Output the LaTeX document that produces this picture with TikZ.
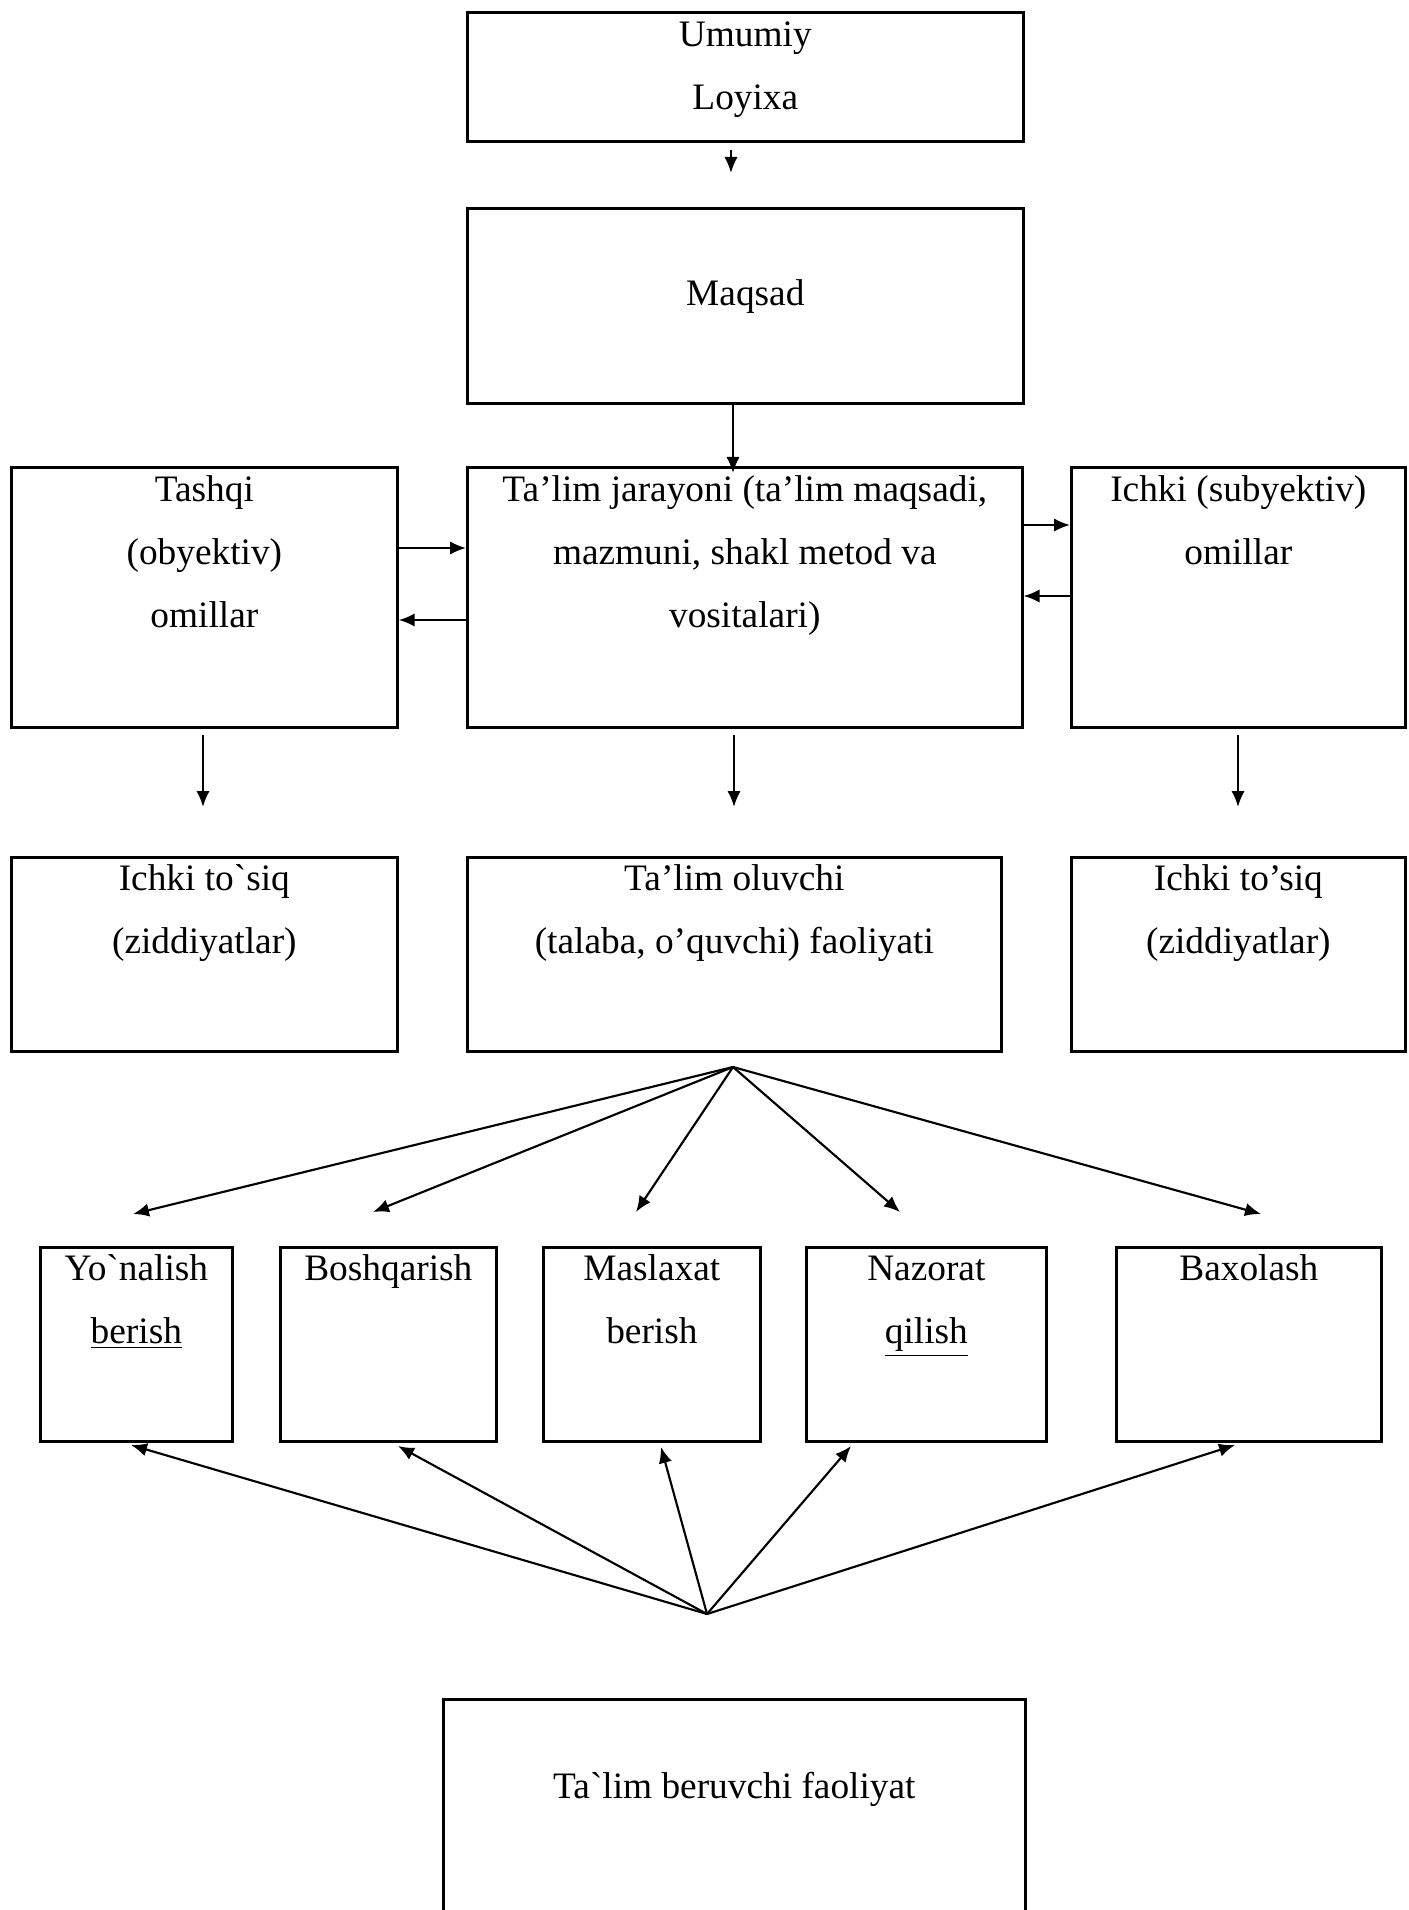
\documentclass[tikz,border=0pt]{standalone}
\usepackage{fontspec}
\setmainfont{Liberation Serif}
\usetikzlibrary{arrows.meta}

\tikzset{
  blok/.style={draw, line width=1pt, anchor=north west, inner sep=0pt},
  yozuv/.style={anchor=north, align=center, inner sep=0pt, font=\fontsize{14}{23.6}\selectfont},
  strelka/.style={line width=0.8pt, -{Latex[length=6pt,width=5pt]}}
}

\begin{document}
\begin{tikzpicture}[x=0.375pt, y=-0.375pt]
\useasboundingbox (0,0) rectangle (1408,1910);

% yuqori qism
\node[blok, minimum width=208.5pt, minimum height=48.4pt] (umumiy) at (466,11) {};
\node[blok, minimum width=208.5pt, minimum height=73.1pt] (maqsad) at (466,207) {};
\node[yozuv] (umumiyT) at ([yshift=3.5pt]umumiy.north) {\strut Umumiy\\Loyixa};
\node[yozuv] (maqsadT) at ([yshift=-20.1pt]maqsad.north) {\strut Maqsad};

% ikkinchi qator
\node[blok, minimum width=144.75pt, minimum height=97.5pt] (tashqi) at (10,466) {};
\node[blok, minimum width=208.1pt, minimum height=97.5pt] (jarayon) at (466,466) {};
\node[blok, minimum width=125.25pt, minimum height=97.5pt] (ichki) at (1070,466) {};
\node[yozuv] (tashqiT) at ([yshift=3.5pt]tashqi.north) {\strut Tashqi\\(obyektiv)\\omillar};
\node[yozuv] (jarayonT) at ([yshift=3.5pt]jarayon.north) {\strut Ta’lim jarayoni (ta’lim maqsadi,\\mazmuni, shakl metod va\\vositalari)};
\node[yozuv] (ichkiT) at ([yshift=3.5pt]ichki.north) {\strut Ichki (subyektiv)\\omillar};

% uchinchi qator
\node[blok, minimum width=144.75pt, minimum height=72.75pt] (tosiqL) at (10,856) {};
\node[blok, minimum width=200.25pt, minimum height=72.75pt] (oluvchi) at (466,856) {};
\node[blok, minimum width=125.25pt, minimum height=72.75pt] (tosiqR) at (1070,856) {};
\node[yozuv] (tosiqLT) at ([yshift=3.8pt]tosiqL.north) {\strut Ichki to\textasciigrave siq\\(ziddiyatlar)};
\node[yozuv] (oluvchiT) at ([yshift=3.8pt]oluvchi.north) {\strut Ta’lim oluvchi\\(talaba, o’quvchi) faoliyati};
\node[yozuv] (tosiqRT) at ([yshift=3.8pt]tosiqR.north) {\strut Ichki to’siq\\(ziddiyatlar)};

% to'rtinchi qator
\node[blok, minimum width=72pt, minimum height=72.75pt] (yonalish) at (39,1246) {};
\node[blok, minimum width=81pt, minimum height=72.75pt] (boshqarish) at (279,1246) {};
\node[blok, minimum width=81.4pt, minimum height=72.75pt] (maslaxat) at (542,1246) {};
\node[blok, minimum width=90pt, minimum height=72.75pt] (nazorat) at (805,1246) {};
\node[blok, minimum width=99.4pt, minimum height=72.75pt] (baxolash) at (1115,1246) {};
\node[yozuv] (yonalishT) at ([yshift=3.8pt]yonalish.north) {\strut Yo\textasciigrave nalish\\\underline{berish}};
\node[yozuv] (boshqarishT) at ([yshift=3.8pt]boshqarish.north) {\strut Boshqarish};
\node[yozuv] (maslaxatT) at ([yshift=3.8pt]maslaxat.north) {\strut Maslaxat\\berish};
\node[yozuv] (nazoratT) at ([yshift=3.8pt]nazorat.north) {\strut Nazorat\\\underline{qilish}};
\node[yozuv] (baxolashT) at ([yshift=3.8pt]baxolash.north) {\strut Baxolash};

% pastki blok
\node[blok, minimum width=218.25pt, minimum height=97.5pt] (beruvchi) at (442,1698) {};
\node[yozuv] (beruvchiT) at ([yshift=-21pt]beruvchi.north) {\strut Ta\textasciigrave lim beruvchi faoliyat};

% strelkalar
\coordinate (k1) at (731,150);
\coordinate (k2) at (731,173);
\coordinate (k3) at (733,473);
\draw[strelka] (k1) -- (k2);
\draw[strelka] (maqsad.south -| k3) -- (k3);

\draw[strelka] (tashqi.east |- 0,548) -- (jarayon.west |- 0,548);
\draw[strelka] (jarayon.west |- 0,620) -- (tashqi.east |- 0,620);
\draw[strelka] (jarayon.east |- 0,525) -- (ichki.west |- 0,525);
\draw[strelka] (ichki.west |- 0,596) -- (jarayon.east |- 0,596);

\coordinate (a1) at (203,735);
\coordinate (a2) at (203,807);
\coordinate (b1) at (734,735);
\coordinate (b2) at (734,807);
\coordinate (c1) at (1238,735);
\coordinate (c2) at (1238,807);
\draw[strelka] (a1) -- (a2);
\draw[strelka] (b1) -- (b2);
\draw[strelka] (c1) -- (c2);

% oluvchidan tarqaladi
\coordinate (tepa) at (733,1067);
\coordinate (u1) at (133,1214);
\coordinate (u2) at (373,1212);
\coordinate (u3) at (636,1212);
\coordinate (u4) at (900,1212);
\coordinate (u5) at (1261,1214);
\foreach \t in {u1,u2,u3,u4,u5}
  \draw[strelka] (tepa) -- (\t);

% beruvchidan yig'iladi
\coordinate (past) at (707,1614);
\coordinate (d1) at (131,1445);
\coordinate (d2) at (398,1446);
\coordinate (d3) at (661,1447);
\coordinate (d4) at (851,1446);
\coordinate (d5) at (1235,1445);
\foreach \t in {d1,d2,d3,d4,d5}
  \draw[strelka] (past) -- (\t);
\end{tikzpicture}
\end{document}
